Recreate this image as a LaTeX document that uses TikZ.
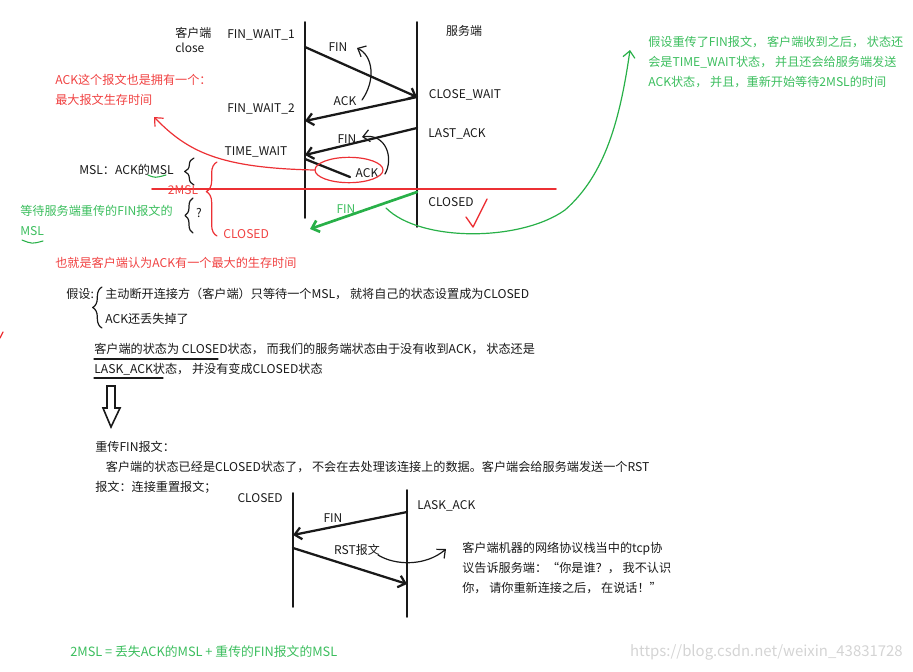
\documentclass[tikz,border=0pt]{standalone}
\usepackage{fontspec}
\setmainfont{Noto Sans CJK SC}
\usetikzlibrary{arrows.meta,decorations.pathreplacing,shapes.geometric}

\definecolor{pen}{RGB}{25,25,25}
\definecolor{redink}{RGB}{236,48,52}
\definecolor{redtxt}{RGB}{240,66,66}
\definecolor{greenink}{RGB}{40,176,72}
\definecolor{greentxt}{RGB}{60,190,94}
\definecolor{wmgray}{RGB}{212,212,212}

\tikzset{
  lbl/.style={inner sep=0pt, text=pen, font=\fontsize{9}{11.25}\selectfont},
  txt/.style={inner sep=0pt, anchor=west, align=left, text=pen, font=\fontsize{9.1}{15}\selectfont},
  life/.style={line width=1.4pt, draw=pen},
  msg/.style={line width=1.7pt, draw=pen, ->},
  hint/.style={line width=0.9pt, ->},
  curly/.style={decorate, decoration={brace, amplitude=#1}},
}

\begin{document}
\begin{tikzpicture}[x=0.75pt, y=-0.75pt, line cap=round, line join=round,
    >={Straight Barb[length=5pt, width=9pt]}]
  \useasboundingbox (0,0) rectangle (913,671);

  % --- oben: vier Handschlaege
  \coordinate (cTop) at (305,22);  \coordinate (cBot) at (305,218);
  \coordinate (sTop) at (417,22);  \coordinate (sBot) at (417,227);
  \draw[life] (cTop) -- (cBot);
  \draw[life] (sTop) -- (sBot);

  \coordinate (cFin) at (305,47);  \coordinate (sFin) at (417,97);
  \coordinate (cAck) at (305,121); \coordinate (sLast) at (417,128);
  \coordinate (cFin2) at (305,155); \coordinate (cAck2) at (305,159);
  \coordinate (lost) at (350,177);
  \coordinate (sClosed) at (417,192); \coordinate (gFinEnd) at (310,229);

  \draw[msg] (cFin) -- (sFin);
  \draw[msg] (sFin) -- (cAck);
  \draw[msg] (sLast) -- (cFin2);
  \draw[line width=1.7pt, draw=pen] (cAck2) -- (lost);
  \draw[line width=2pt, draw=greenink, ->] (sClosed) -- (gFinEnd);

  \node[lbl, anchor=west, align=left] (client) at (175,39.5) {客户端\\close};
  \node[lbl] (fw1) at (261,35) {FIN\_WAIT\_1};
  \node[lbl] (server) at (464,31) {服务端};
  \node[lbl] (finA) at (338,47) {FIN};
  \node[lbl] (cw) at (465,95) {CLOSE\_WAIT};
  \node[lbl] (fw2) at (261,109) {FIN\_WAIT\_2};
  \node[lbl] (ackA) at (345,101) {ACK};
  \node[lbl] (la) at (457,134) {LAST\_ACK};
  \node[lbl] (finB) at (347,139) {FIN};
  \node[lbl] (tw) at (256,152) {TIME\_WAIT};
  \node[lbl] (ackB) at (367,173) {ACK};
  \node[lbl] (closedS) at (451,202) {CLOSED};
  \node[lbl, text=greentxt] (finG) at (346,209) {FIN};

  % Pfeile zwischen den Beschriftungen
  \coordinate (h1a) at (362,100); \coordinate (h1b) at (357,48);
  \draw[hint, draw=pen] (h1a) .. controls (376,80) and (373,56) .. (h1b);
  \coordinate (h2a) at (385,174); \coordinate (h2b) at (362,137);
  \draw[hint, draw=pen] (h2a) .. controls (394,158) and (386,133) .. (h2b);

  % rote Markierungen
  \node[ellipse, draw=redink, line width=0.9pt, minimum width=51pt, minimum height=19pt,
    inner sep=0pt] (lostring) at (349,170) {};
  \coordinate (lineL) at (152,189); \coordinate (lineR) at (556,189);
  \draw[redink, line width=1.3pt] (lineL) -- (lineR);
  \coordinate (redTip) at (154,117);
  \draw[hint, draw=redink] (lostring.west) .. controls (220,168) and (188,152) .. (redTip);
  \coordinate (chkA) at (466,217); \coordinate (chkB) at (473,227); \coordinate (chkC) at (487,199);
  \draw[redink, line width=1pt] (chkA) -- (chkB) -- (chkC);
  \coordinate (nick) at (0,338); \coordinate (nickB) at (3,332);
  \draw[redink, line width=1pt] (nick) -- (nickB);

  \node[txt, text=redtxt] (ackLife) at (55,90) {ACK这个报文也是拥有一个：\\最大报文生存时间};
  \node[txt] (mslAck) at (79,170) {MSL：ACK的MSL};
  \node[txt, text=greentxt] (waitFin) at (20,220.5) {等待服务端重传的FIN报文的\\MSL};
  \node[txt, text=redtxt] (closedC) at (223,234) {CLOSED};
  \node[txt, text=redtxt] (maxLife) at (55,263) {也就是客户端认为ACK有一个最大的生存时间};

  % Klammern
  \draw[curly=7pt, draw=pen, line width=0.9pt] (194,185) -- (194,158);
  \draw[curly=6pt, draw=pen, line width=0.9pt] (193,233) -- (193,198);
  \node[lbl] (qmark) at (199,213) {?};
  \draw[curly=8pt, draw=redink, line width=0.9pt, decoration={aspect=0.6}] (217,236) -- (217,162);
  \node[lbl, text=redtxt] (twoMsl) at (183,190) {2MSL};

  % gruene Markierungen
  \coordinate (ulA) at (148,175); \coordinate (ulB) at (166,175);
  \draw[greenink, line width=0.8pt] (ulA) .. controls (155,178) .. (ulB);
  \coordinate (ulC) at (22,240); \coordinate (ulD) at (43,241);
  \draw[greenink, line width=0.8pt] (ulC) .. controls (32,244) .. (ulD);
  \coordinate (gStart) at (386,208); \coordinate (gMid) at (565,210); \coordinate (gTip) at (630,50);
  \draw[hint, draw=greenink] (gStart) .. controls (420,242) and (520,242) .. (gMid)
    .. controls (605,175) and (620,120) .. (gTip);
  \node[txt, text=greentxt] (resend) at (648,62)
    {假设重传了FIN报文， 客户端收到之后， 状态还\\会是TIME\_WAIT状态， 并且还会给服务端发送\\ACK状态， 并且，重新开始等待2MSL的时间};

  % --- Mitte: Annahme
  \node[txt] (suppose) at (66,294) {假设:};
  \draw[curly=7pt, draw=pen, line width=0.9pt] (102,328) -- (102,287);
  \node[txt] (caseA) at (105,294) {主动断开连接方（客户端）只等待一个MSL， 就将自己的状态设置成为CLOSED};
  \node[txt] (caseB) at (105,319) {ACK还丢失掉了};
  \node[txt] (result) at (94,359.5)
    {客户端的状态为 CLOSED状态， 而我们的服务端状态由于没有收到ACK， 状态还是\\LASK\_ACK状态， 并没有变成CLOSED状态};
  \coordinate (ulE) at (94,359); \coordinate (ulF) at (218,359);
  \draw[pen, line width=0.8pt] (ulE) -- (ulF);
  \coordinate (ulG) at (94,378); \coordinate (ulH) at (163,378);
  \draw[pen, line width=0.8pt] (ulG) -- (ulH);

  % hohler Pfeil
  \draw[pen, line width=1.2pt, line join=miter]
    (107,386) -- (115,386) -- (115,408) -- (120,408) -- (111,427) -- (103,408) -- (107,408) -- cycle;

  \node[txt] (resendFin) at (95,467)
    {重传FIN报文：\\\hspace*{8pt}客户端的状态已经是CLOSED状态了， 不会在去处理该连接上的数据。客户端会给服务端发送一个RST\\报文：连接重置报文；};

  % --- unten: RST
  \coordinate (bcTop) at (293,493); \coordinate (bcBot) at (293,607);
  \coordinate (bsTop) at (407,490); \coordinate (bsBot) at (407,617);
  \draw[life] (bcTop) -- (bcBot);
  \draw[life] (bsTop) -- (bsBot);
  \coordinate (bsFin) at (407,512); \coordinate (bcFin) at (293,535);
  \coordinate (bcRst) at (293,548); \coordinate (bsRst) at (407,584);
  \draw[msg] (bsFin) -- (bcFin);
  \draw[msg] (bcRst) -- (bsRst);

  \node[lbl, anchor=east] (bClosed) at (283,498) {CLOSED};
  \node[lbl, anchor=west] (bLask) at (417,506) {LASK\_ACK};
  \node[lbl] (bFin) at (333,518) {FIN};
  \node[lbl] (bRst) at (357,550) {RST报文};
  \coordinate (rA) at (378,555); \coordinate (rB) at (446,549);
  \draw[hint, draw=pen] (rA) .. controls (396,566) and (426,566) .. (rB);
  \node[txt] (stack) at (462,568)
    {客户端机器的网络协议栈当中的tcp协\\议告诉服务端：“你是谁？， 我不认识\\你， 请你重新连接之后， 在说话！”};

  % --- Fusszeile
  \node[txt, text=greentxt, font=\fontsize{9.6}{12}\selectfont] (sum) at (70,652)
    {2MSL = 丢失ACK的MSL + 重传的FIN报文的MSL};
  \node[inner sep=0pt, anchor=east, text=wmgray, font=\fontsize{11.2}{12}\selectfont] (wm)
    at (903,652) {https://blog.csdn.net/weixin\_43831728};
\end{tikzpicture}
\end{document}
